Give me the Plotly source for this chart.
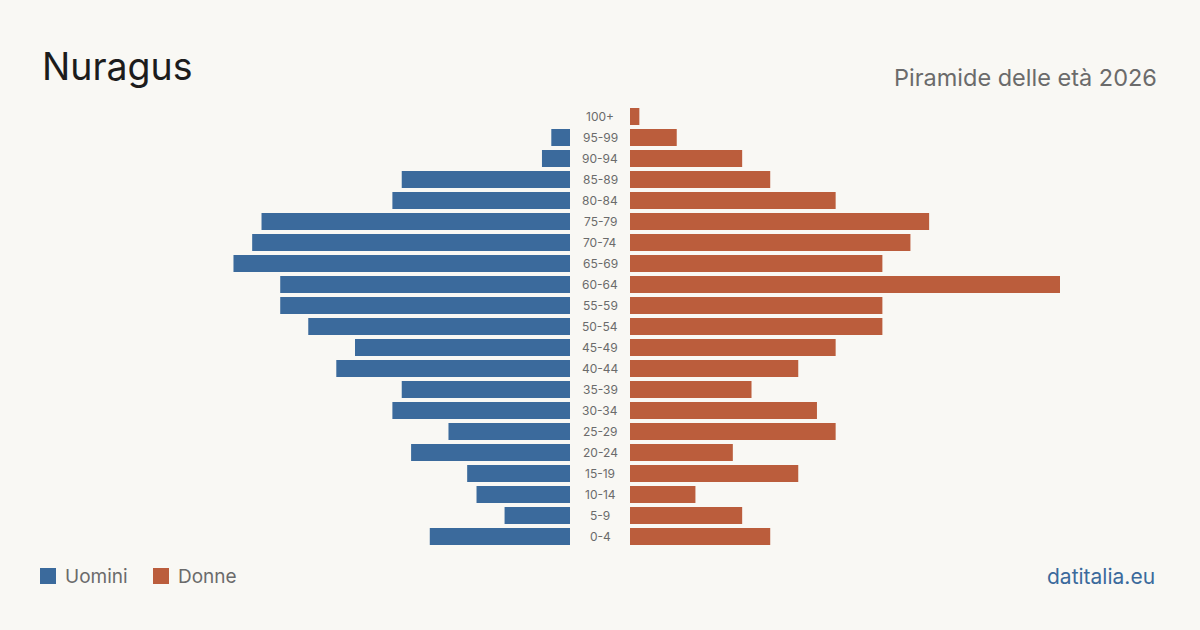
import plotly.graph_objects as go

ages = ["0-4", "5-9", "10-14", "15-19", "20-24", "25-29", "30-34", "35-39", "40-44",
        "45-49", "50-54", "55-59", "60-64", "65-69", "70-74", "75-79", "80-84",
        "85-89", "90-94", "95-99", "100+"]
men = [15, 7, 10, 11, 17, 13, 19, 18, 25, 23, 28, 31, 31, 36, 34, 33, 19, 18, 3, 2, 0]
women = [15, 12, 7, 18, 11, 22, 20, 13, 18, 22, 27, 27, 46, 27, 30, 32, 22, 15, 12, 5, 1]

title = "Nuragus"
subtitle = "Piramide delle età 2026"
source = "datitalia.eu"
legend_names = ["Uomini", "Donne"]

BLUE = "#3b6a9c"
ORANGE = "#bb5d3c"
BG = "#f9f8f4"
FONT = "Inter, Roboto, sans-serif"

W, H = 1200, 630
T, B = 106, 83
R = 46


def py(ypix):
    return (H - B - ypix) / (H - T - B)


fig = go.Figure()
fig.add_trace(go.Bar(y=ages, x=men, orientation="h", marker=dict(color=BLUE, line_width=0),
                     xaxis="x", yaxis="y", showlegend=False, name=legend_names[0],
                     hovertemplate="%{y}: %{x}<extra></extra>"))
fig.add_trace(go.Bar(y=ages, x=women, orientation="h", marker=dict(color=ORANGE, line_width=0),
                     xaxis="x2", yaxis="y2", showlegend=False, name=legend_names[1],
                     hovertemplate="%{y}: %{x}<extra></extra>"))

for a in ages:
    fig.add_annotation(x=600 / W, xref="paper", y=a, yref="y", text=a, showarrow=False,
                       xanchor="center", yanchor="middle",
                       font=dict(family=FONT, size=12, color="#6b6b6b"))

common_x = dict(showgrid=False, zeroline=False, showticklabels=False, showline=False, fixedrange=True)
fig.update_layout(
    width=W, height=H,
    paper_bgcolor=BG, plot_bgcolor=BG,
    margin=dict(l=0, r=0, t=T, b=B),
    bargap=0.19,
    xaxis=dict(domain=[140 / W, 570 / W], range=[R, 0], **common_x),
    xaxis2=dict(domain=[630 / W, 1060 / W], range=[0, R], **common_x),
    yaxis=dict(anchor="x", categoryorder="array", categoryarray=ages, range=[-0.5, 20.5],
               showticklabels=False, showgrid=False, zeroline=False),
    yaxis2=dict(anchor="x2", categoryorder="array", categoryarray=ages, range=[-0.5, 20.5],
                showticklabels=False, showgrid=False, zeroline=False, matches="y"),
    font=dict(family=FONT),
)

# title / subtitle
fig.add_annotation(x=40 / W, y=py(67), xref="paper", yref="paper", text=title,
                   showarrow=False, xanchor="left", yanchor="middle",
                   font=dict(family=FONT, size=37.5, color="#1c1c1c"))
fig.add_annotation(x=1159 / W, y=py(77), xref="paper", yref="paper", text=subtitle,
                   showarrow=False, xanchor="right", yanchor="middle",
                   font=dict(family=FONT, size=23.5, color="#6b6b6b"))
fig.add_annotation(x=1157 / W, y=py(576), xref="paper", yref="paper", text=source,
                   showarrow=False, xanchor="right", yanchor="middle",
                   font=dict(family=FONT, size=21, color=BLUE))

# manual legend
for x0, col, name in [(40, BLUE, legend_names[0]), (153, ORANGE, legend_names[1])]:
    fig.add_shape(type="rect", xref="paper", yref="paper",
                  x0=x0 / W, x1=(x0 + 16) / W, y0=py(584), y1=py(568),
                  fillcolor=col, line_width=0)
    fig.add_annotation(x=(x0 + 23) / W, y=py(576), xref="paper", yref="paper", text=name,
                       showarrow=False, xanchor="left", yanchor="middle",
                       font=dict(family=FONT, size=19, color="#6b6b6b"))

fig.write_html("out.html", config={"displayModeBar": False})
